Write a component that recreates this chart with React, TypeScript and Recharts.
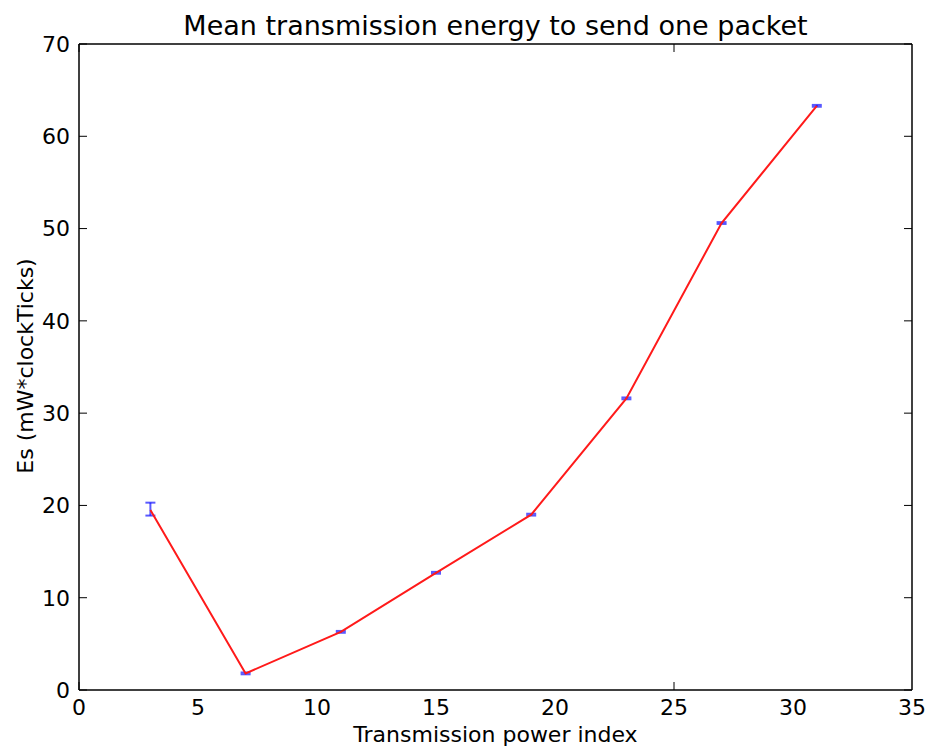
import React from "react";
import { ComposedChart, Line, ErrorBar, XAxis, YAxis } from "recharts";

// transmission power index
const POWER_INDEX = [3, 7, 11, 15, 19, 23, 27, 31];
// mean energy Es (mW*clockTicks)
const ENERGY = [19.5, 1.8, 6.3, 12.7, 19.0, 31.6, 50.6, 63.3];
// error bar half-widths (lower, upper)
const ERR_LOW = [0.6, 0.1, 0.1, 0.1, 0.1, 0.1, 0.1, 0.1];
const ERR_HIGH = [0.8, 0.1, 0.1, 0.1, 0.1, 0.1, 0.1, 0.1];

const X_TICKS = [0, 5, 10, 15, 20, 25, 30, 35];
const Y_TICKS = [0, 10, 20, 30, 40, 50, 60, 70];

const FONT = '"DejaVu Sans", Verdana, sans-serif';
const W = 930;
const H = 753;

const data = POWER_INDEX.map((x, i) => ({
  x,
  es: ENERGY[i],
  err: [ERR_LOW[i], ERR_HIGH[i]],
}));

const frame = { stroke: "#000", strokeWidth: 1.5 };
const tickIn = { stroke: "#000", strokeWidth: 1 };
const tickText = { fontSize: 22, fill: "#000", fontFamily: FONT };

// tick marks only, no label
const NoLabel = () => <g />;

export default function App() {
  return (
    <div
      style={{
        position: "absolute",
        left: 0,
        top: 0,
        width: W,
        height: H,
        background: "#fff",
        fontFamily: FONT,
      }}
    >
      <ComposedChart
        width={W}
        height={H}
        data={data}
        margin={{ top: 44, right: 18, bottom: 0, left: 0 }}
      >
        {/* labelled axes, ticks drawn separately inward */}
        <XAxis
          xAxisId="b"
          dataKey="x"
          type="number"
          domain={[0, 35]}
          ticks={X_TICKS}
          height={63}
          tickSize={0}
          tickMargin={9}
          tickLine={false}
          tick={tickText}
          axisLine={frame}
          allowDataOverflow
        />
        <YAxis
          yAxisId="l"
          type="number"
          domain={[0, 70]}
          ticks={Y_TICKS}
          width={79}
          tickSize={0}
          tickMargin={9}
          tickLine={false}
          tick={tickText}
          axisLine={frame}
          allowDataOverflow
        />
        {/* inward tick marks on all four sides */}
        <XAxis
          xAxisId="bIn"
          type="number"
          orientation="bottom"
          mirror
          domain={[0, 35]}
          ticks={X_TICKS}
          tickSize={8}
          tick={NoLabel}
          tickLine={tickIn}
          axisLine={false}
          allowDataOverflow
        />
        <XAxis
          xAxisId="t"
          type="number"
          orientation="top"
          mirror
          domain={[0, 35]}
          ticks={X_TICKS}
          tickSize={8}
          tick={NoLabel}
          tickLine={tickIn}
          axisLine={frame}
          allowDataOverflow
        />
        <YAxis
          yAxisId="lIn"
          type="number"
          orientation="left"
          mirror
          domain={[0, 70]}
          ticks={Y_TICKS}
          tickSize={8}
          tick={NoLabel}
          tickLine={tickIn}
          axisLine={false}
          allowDataOverflow
        />
        <YAxis
          yAxisId="r"
          type="number"
          orientation="right"
          mirror
          domain={[0, 70]}
          ticks={Y_TICKS}
          tickSize={8}
          tick={NoLabel}
          tickLine={tickIn}
          axisLine={frame}
          allowDataOverflow
        />

        <Line
          xAxisId="b"
          yAxisId="l"
          dataKey="es"
          type="linear"
          stroke="#ff1a1a"
          strokeWidth={2}
          dot={false}
          isAnimationActive={false}
        >
          <ErrorBar
            dataKey="err"
            direction="y"
            width={5}
            stroke="rgba(0,0,255,0.65)"
            strokeWidth={2}
            isAnimationActive={false}
          />
        </Line>
      </ComposedChart>

      <div
        style={{
          position: "absolute",
          left: 79,
          width: 833,
          top: 12,
          textAlign: "center",
          fontSize: 27,
          lineHeight: "27px",
          color: "#000",
          whiteSpace: "nowrap",
        }}
      >
        Mean transmission energy to send one packet
      </div>
      <div
        style={{
          position: "absolute",
          left: 79,
          width: 833,
          top: 724,
          textAlign: "center",
          fontSize: 22,
          lineHeight: "22px",
          color: "#000",
          whiteSpace: "nowrap",
        }}
      >
        Transmission power index
      </div>
      <div
        style={{
          position: "absolute",
          left: 26,
          top: 366,
          transform: "translate(-50%, -50%) rotate(-90deg)",
          fontSize: 22,
          lineHeight: "22px",
          color: "#000",
          whiteSpace: "nowrap",
        }}
      >
        Es (mW*clockTicks)
      </div>
    </div>
  );
}
